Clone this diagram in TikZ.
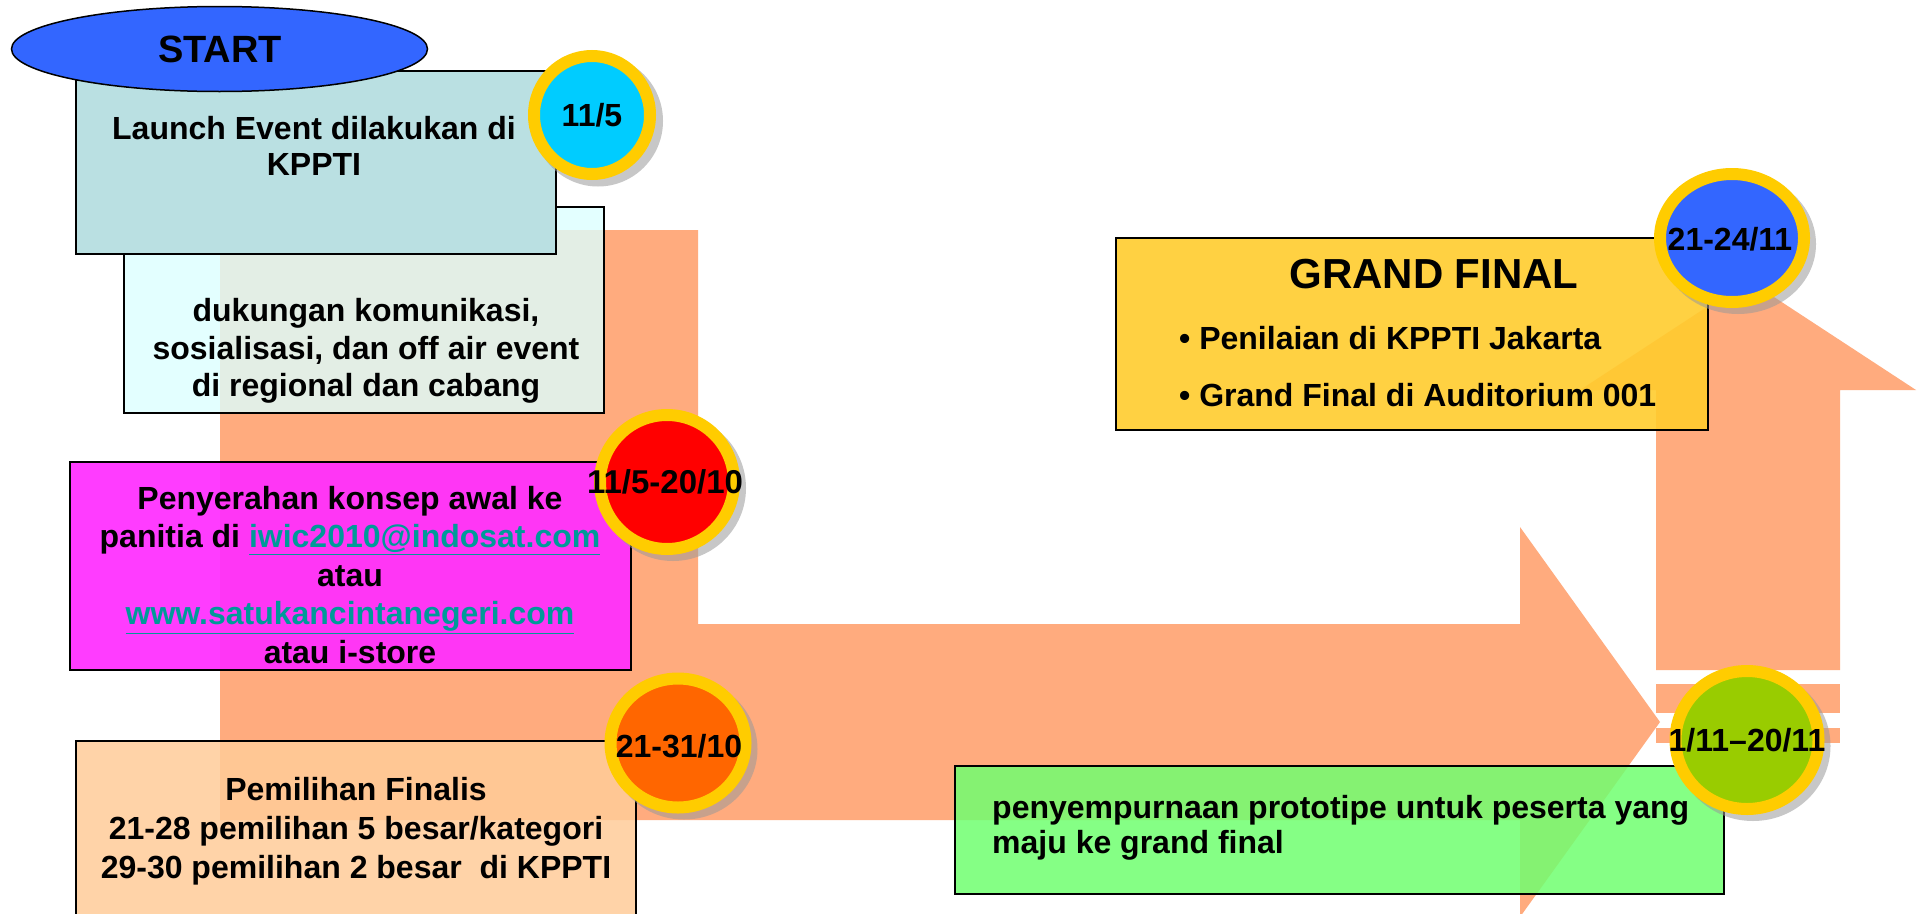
\documentclass[tikz,border=0pt]{standalone}
\usepackage{fontspec}
\setmainfont{Liberation Sans}
\usetikzlibrary{shapes.geometric}
\definecolor{arrowor}{HTML}{FFAB7E}
\definecolor{startblue}{HTML}{3366FF}
\definecolor{launchfill}{HTML}{BAE0E2}
\definecolor{dukfill}{HTML}{DDFFFF}
\definecolor{pinkfill}{HTML}{FF2EFF}
\definecolor{pemfill}{HTML}{FFCC99}
\definecolor{greenfill}{HTML}{70FF70}
\definecolor{grandfill}{HTML}{FFCC2E}
\definecolor{ringyellow}{HTML}{FFCC00}
\definecolor{cyanin}{HTML}{00CCFF}
\definecolor{redin}{HTML}{FF0000}
\definecolor{orangein}{HTML}{FF6600}
\definecolor{limein}{HTML}{99CC00}
\definecolor{bluein}{HTML}{3366FF}
\definecolor{linkteal}{HTML}{009999}
\newcommand{\bodyfont}{\fontsize{32}{37}\selectfont\bfseries}
\newcommand{\tlink}[1]{{\color{linkteal}\underline{#1}}}
\begin{document}
\begin{tikzpicture}[x=1pt,y=-1pt,
  bigarrow/.style={fill=arrowor},
  box/.style={draw=black, line width=2pt, rectangle, inner sep=0pt},
  txt/.style={inner sep=0pt, font=\bodyfont, text=black},
  ring/.style={ellipse, draw=ringyellow, line width=12pt, inner sep=0pt},
  shade/.style={ellipse, fill=black!40, fill opacity=0.55, inner sep=0pt},
  datetxt/.style={inner sep=0pt, font=\bodyfont}
]
\useasboundingbox (0,0) rectangle (1925,913);
\fill[white] (0,0) rectangle (1925,913);

% big orange arrow (right-pointing)
\fill[bigarrow] (220,230) -- (698,230) -- (698,624) -- (1520,624) -- (1520,527)
  -- (1660,722) -- (1520,917) -- (1520,820) -- (220,820) -- cycle;
% upward arrow
\fill[bigarrow] (1656,670) -- (1656,390) -- (1580,390) -- (1748,280) -- (1916,390)
  -- (1840,390) -- (1840,670) -- cycle;
\fill[bigarrow] (1656,684) rectangle (1840,713);
\fill[bigarrow] (1656,728) rectangle (1840,743);

% boxes
\node[box, fill=dukfill, fill opacity=0.8, draw opacity=1, minimum width=480pt, minimum height=206pt] (dukbox) at (364,310) {};
\node[box, fill=launchfill, minimum width=480pt, minimum height=183pt] (launchbox) at (316,162.5) {};
\node[ellipse, draw=black, line width=1.5pt, fill=startblue, minimum width=416pt, minimum height=85pt, inner sep=0pt] (start) at (219.5,49) {};
\node[box, fill=pinkfill, fill opacity=0.93, draw opacity=1, minimum width=561pt, minimum height=208pt] (pinkbox) at (350.5,566) {};
\node[box, fill=pemfill, fill opacity=0.85, draw opacity=1, minimum width=560pt, minimum height=184pt] (pembox) at (356,833) {};
\node[box, fill=greenfill, fill opacity=0.85, draw opacity=1, minimum width=769pt, minimum height=128pt] (greenbox) at (1339.5,830) {};
\node[box, fill=grandfill, fill opacity=0.9, draw opacity=1, minimum width=592pt, minimum height=192pt] (grandbox) at (1412,334) {};

% box texts
\node[txt, font=\fontsize{38}{40}\selectfont\bfseries] (starttxt) at (220,49) {START};
\node[txt, align=center, font=\fontsize{32}{36}\selectfont\bfseries] (launchtxt) at (314,146) {Launch Event dilakukan di\\KPPTI};
\node[txt, align=center, font=\fontsize{32}{37.5}\selectfont\bfseries] (duktxt) at (366,351) {dukungan komunikasi,\\sosialisasi, dan off air event\\di regional dan cabang};
\node[txt, align=center, font=\fontsize{32}{38.5}\selectfont\bfseries] (pinktxt) at (350,575) {Penyerahan konsep awal ke\\panitia di \tlink{iwic2010@indosat.com}\\atau\\\tlink{www.satukancintanegeri.com}\\atau i-store};
\node[txt, align=center, font=\fontsize{32}{39}\selectfont\bfseries] (pemtxt) at (356,831) {Pemilihan Finalis\\21-28 pemilihan 5 besar/kategori\\29-30 pemilihan 2 besar~ di KPPTI};
\node[txt, align=left, anchor=west, font=\fontsize{32}{35}\selectfont\bfseries] (greentxt) at (992,828) {penyempurnaan prototipe untuk peserta yang\\maju ke grand final};
\node[txt, font=\fontsize{42}{46}\selectfont\bfseries] (grandtitle) at (1434,274) {GRAND FINAL};
\node[txt, align=left, anchor=west, font=\fontsize{32}{57}\selectfont\bfseries] (grandlist) at (1179,367) {• Penilaian di KPPTI Jakarta\\• Grand Final di Auditorium 001};

% date circles: shadow, ring, text
\node[shade, minimum width=130pt, minimum height=131pt] (c1s) at (598,121) {};
\node[ring, fill=cyanin, minimum width=116pt, minimum height=118pt] (c1) at (592,115) {};
\node[datetxt] (c1t) at (592,115) {11/5};

\node[shade, minimum width=146pt, minimum height=146pt] (c2s) at (673,488) {};
\node[ring, fill=redin, minimum width=134pt, minimum height=134pt] (c2) at (667,482) {};
\node[datetxt, font=\fontsize{33}{37}\selectfont\bfseries] (c2t) at (665,482) {11/5-20/10};

\node[shade, minimum width=147pt, minimum height=141pt] (c3s) at (684,749) {};
\node[ring, fill=orangein, minimum width=135pt, minimum height=129pt] (c3) at (678,743) {};
\node[datetxt] (c3t) at (679,746) {21-31/10};

\node[shade, minimum width=155pt, minimum height=150pt] (c4s) at (1753,746) {};
\node[ring, fill=limein, minimum width=143pt, minimum height=138pt] (c4) at (1747,740) {};
\node[datetxt] (c4t) at (1747,740) {1/11–20/11};

\node[shade, minimum width=156pt, minimum height=140pt] (c5s) at (1738,244) {};
\node[ring, fill=bluein, minimum width=144pt, minimum height=128pt] (c5) at (1732,238) {};
\node[datetxt] (c5t) at (1730,239) {21-24/11};
\end{tikzpicture}
\end{document}
